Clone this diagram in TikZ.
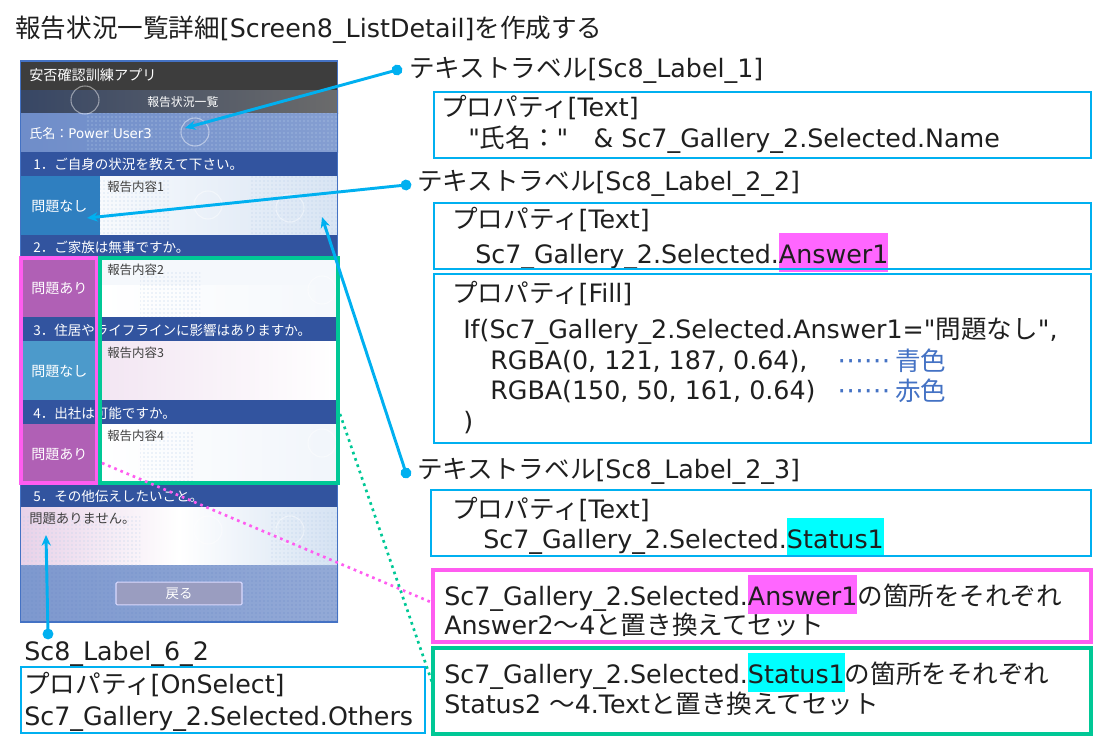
\documentclass[tikz,border=0pt]{standalone}
\usepackage{fontspec}
\setmainfont[Ligatures=TeXOff]{DejaVu Sans}
\newfontfamily\cjk[Scale=1.01]{Noto Sans CJK JP}
\usetikzlibrary{patterns,arrows.meta}
\newcommand{\J}[1]{{\cjk #1}}
\newcommand{\hl}[2]{{\setlength{\fboxsep}{0pt}\colorbox{#1}{\rule[-6.9pt]{0pt}{29.2pt}#2}}}
\newcommand{\dq}{\char34\relax}
\definecolor{cy}{HTML}{00B0F0}
\definecolor{mg}{HTML}{FF5CF0}
\definecolor{gn}{HTML}{00C896}
\definecolor{band}{HTML}{32549F}
\definecolor{hlm}{HTML}{FF66FF}
\definecolor{hlc}{HTML}{00FFFF}
\definecolor{blu}{HTML}{4472C4}
\definecolor{tl}{HTML}{B9CFEA}
\definecolor{tk}{HTML}{6F8DC9}
\definecolor{celb}{HTML}{2F7FC0}
\definecolor{celc}{HTML}{4C9ACB}
\definecolor{celp}{HTML}{B060B5}
\definecolor{btn}{HTML}{9A9DC0}
\tikzset{
  txt/.style={anchor=base west,inner sep=0pt,font=\fontsize{19}{22}\selectfont,text=black!88},
  scr/.style={anchor=base west,inner sep=0pt,text=white,font=\fontsize{10.05}{12}\selectfont},
  sca/.style={scr,font=\fontsize{10.4}{12}\selectfont},
  scrd/.style={anchor=base west,inner sep=0pt,text=black!75,font=\fontsize{9.25}{11}\selectfont},
  cbox/.style={draw=cy,line width=1.5pt},
  conn/.style={draw=cy,line width=2.2pt,shorten <=-4pt,{Circle[length=8pt]}-{Stealth[length=8pt,width=7pt]}},
  dotm/.style={draw=mg,line width=2pt,dash pattern=on 2pt off 3pt},
  dotg/.style={draw=gn,line width=2pt,dash pattern=on 2pt off 3pt},
  ico/.style={draw=white,opacity=0.45,line width=0.8pt},
  patch/.style={pattern=dots,pattern color=#1},
}
\begin{document}
\begin{tikzpicture}[x=0.75pt,y=-0.75pt]
\useasboundingbox (0,0) rectangle (1111,753);
% --- screen ---
\begin{scope}
\clip (20,61) rectangle (338,622);
\fill[color=white] (20,61) rectangle (338,622);
\fill[color=black!76] (20,61) rectangle (338,90);
\fill[left color=black!50!tk,right color=black!58] (20,90) rectangle (338,113);
\fill[left color=tk,right color=tk!85!white] (20,113) rectangle (338,152);
\fill[patch=tl] (85,113) rectangle (338,152);
% rows
\fill[left color=white!90!tl,right color=tl!55!white] (100,176) rectangle (338,235);
\fill[left color=white,right color=white!85!tl] (100,258) rectangle (338,317);
\fill[white!85!tl] (100,258) rectangle (338,285);
\fill[left color=violet!10!white,right color=white] (100,341) rectangle (338,400);
\fill[left color=white,right color=white!80!tl] (100,424) rectangle (338,484);
\fill[left color=violet!18!white,right color=tl!60!white,middle color=white] (20,507) rectangle (338,565);
\fill[left color=tk!90!white,right color=tk!75!white] (20,565) rectangle (338,622);
\fill[patch=tk] (20,565) rectangle (338,622);
\fill[patch=tl] (250,176) rectangle (338,235);
\fill[patch=tl] (100,180) rectangle (170,235);
\fill[patch=tl] (140,270) rectangle (200,317);
\fill[patch=tl] (140,430) rectangle (195,484);
\fill[patch=tl] (20,515) rectangle (140,565);
\fill[patch=tl] (270,510) rectangle (338,565);
% left cells
\fill[celb] (20,176) rectangle (100,235);
\fill[celp] (20,258) rectangle (100,317);
\fill[celc] (20,341) rectangle (100,400);
\fill[celp] (20,424) rectangle (100,484);
\foreach \x/\y in {208/205,290/208,322/290,322/443,208/530,290/530,85/100,195/132}
  \draw[ico] (\x,\y) circle[radius=14];
\foreach \y/\h in {152/176,235/258,317/341,400/424,484/507}
  \fill[band] (20,\y) rectangle (338,\h);
\end{scope}
\draw[blu,line width=1pt] (20.5,61) rectangle (337.5,622);
\node[scr,font=\fontsize{10.5}{13}\selectfont] (t1) at (29,80) {\J{安否確認訓練アプリ}};
\node[scr,font=\fontsize{8.8}{11}\selectfont] (t2) at (147,106) {\J{報告状況一覧}};
\node[scr,font=\fontsize{9.7}{12}\selectfont] (t3) at (29,138) {\J{氏名：}\fontsize{10}{12}\selectfont Power User3};
\node[scr] (q1) at (33,169) {\J{1．ご自身の状況を教えて下さい。}};
\node[scr] (q2) at (33,252) {\J{2．ご家族は無事ですか。}};
\node[scr] (q3) at (33,335) {\J{3．住居やライフラインに影響はありますか。}};
\node[scr] (q4) at (33,418) {\J{4．出社は可能ですか。}};
\node[scr] (q5) at (33,501) {\J{5．その他伝えしたいこと。}};
\node[sca] (a1) at (31,211) {\J{問題なし}};
\node[sca] (a2) at (31,293) {\J{問題あり}};
\node[sca] (a3) at (31,376) {\J{問題なし}};
\node[sca] (a4) at (31,459) {\J{問題あり}};
\node[scrd] (r1) at (107,191) {\J{報告内容1}};
\node[scrd] (r2) at (107,274) {\J{報告内容2}};
\node[scrd] (r3) at (107,357) {\J{報告内容3}};
\node[scrd] (r4) at (107,440) {\J{報告内容4}};
\node[scrd,font=\fontsize{9.9}{12}\selectfont] (r5) at (29,523) {\J{問題ありません。}};
\node[draw=white!85!blue,line width=0.8pt,fill=btn,rounded corners=1pt,minimum width=94.5pt,minimum height=17pt,inner sep=0pt,text=white,font=\fontsize{10}{12}\selectfont] (back) at (179,593.5) {\J{戻る}};
% --- highlight frames ---
\draw[mg,line width=3pt] (21,258) rectangle (97,483);
\draw[gn,line width=3pt] (100,258) rectangle (338,483);
% --- texts ---
\node[txt] (title) at (15,37) {\J{報告状況一覧詳細}[Screen8\_ListDetail]\J{を作成する}};
\node[txt] (l1) at (409,77) {\J{テキストラベル}[Sc8\_Label\_1]};
\node[txt] (p1) at (441,116) {\J{プロパティ}[Text]};
\node[txt] (p1b) at (468,147) {\dq\J{氏名：}\dq\hspace{19pt}\& Sc7\_Gallery\_2.Selected.Name};
\node[txt] (l2) at (417,190) {\J{テキストラベル}[Sc8\_Label\_2\_2]};
\node[txt] (p2) at (452,228) {\J{プロパティ}[Text]};
\node[txt] (p2b) at (475,263) {Sc7\_Gallery\_2.Selected.\hl{hlm}{Answer1}};
\node[txt] (p3) at (452,302) {\J{プロパティ}[Fill]};
\node[txt] (p3b) at (463,338) {If(Sc7\_Gallery\_2.Selected.Answer1=\dq\J{問題なし}\dq,};
\node[txt] (p3c) at (490,369) {RGBA(0, 121, 187, 0.64),};
\node[txt,text=blu,font=\fontsize{20}{22}\selectfont] (dots1) at (837,369) {\char"22EF\char"22EF};
\node[txt,text=blu] (ao) at (895,370) {\J{青色}};
\node[txt] (p3d) at (490,399) {RGBA(150, 50, 161, 0.64)};
\node[txt,text=blu,font=\fontsize{20}{22}\selectfont] (dots2) at (837,399) {\char"22EF\char"22EF};
\node[txt,text=blu] (aka) at (895,400) {\J{赤色}};
\node[txt] (p3e) at (463,430) {)};
\node[txt] (l3) at (417,478) {\J{テキストラベル}[Sc8\_Label\_2\_3]};
\node[txt] (p4) at (452,518) {\J{プロパティ}[Text]};
\node[txt] (p4b) at (483,548) {Sc7\_Gallery\_2.Selected.\hl{hlc}{Status1}};
\node[txt] (e1) at (444,605) {Sc7\_Gallery\_2.Selected.\hl{hlm}{Answer1}\J{の箇所をそれぞれ}};
\node[txt] (e2) at (444,634) {Answer2\J{～}4\J{と置き換えてセット}};
\node[txt] (f1) at (444,683) {Sc7\_Gallery\_2.Selected.\hl{hlc}{Status1}\J{の箇所をそれぞれ}};
\node[txt] (f2) at (444,713) {Status2 \J{～}4.Text\J{と置き換えてセット}};
\node[txt] (l6) at (24,660) {Sc8\_Label\_6\_2};
\node[txt] (g1) at (24,693) {\J{プロパティ}[OnSelect]};
\node[txt] (g2) at (24,725) {Sc7\_Gallery\_2.Selected.Others};
% --- right side boxes ---
\node[cbox,minimum width=492.5pt,minimum height=49.5pt,inner sep=0pt] (bA) at (762.5,124.5) {};
\node[cbox,minimum width=492.5pt,minimum height=49.5pt,inner sep=0pt] (bB) at (762.5,236) {};
\node[cbox,minimum width=492.5pt,minimum height=126.5pt,inner sep=0pt] (bC) at (762.5,358.5) {};
\node[cbox,minimum width=495pt,minimum height=49.5pt,inner sep=0pt] (bD) at (761,523) {};
\node[draw=mg,line width=3pt,minimum width=493pt,minimum height=54pt,inner sep=0pt] (bE) at (762,606) {};
\node[draw=gn,line width=3pt,minimum width=493pt,minimum height=64.5pt,inner sep=0pt] (bF) at (762,691) {};
\node[cbox,minimum width=303pt,minimum height=49.5pt,inner sep=0pt] (bG) at (223,700) {};
% --- connectors ---
\coordinate (c1s) at (397,70); \coordinate (c1e) at (185,128);
\coordinate (c2s) at (406,185); \coordinate (c2e) at (87,218);
\coordinate (c3s) at (406,473); \coordinate (c3e) at (322,217);
\coordinate (c4s) at (48,634); \coordinate (c4e) at (46,535);
\coordinate (d1s) at (102,463); \coordinate (d1e) at (433,603);
\coordinate (d2s) at (340,414); \coordinate (d2e) at (433,685);
\draw[conn] (c1s) -- (c1e);
\draw[conn] (c2s) -- (c2e);
\draw[conn] (c3s) -- (c3e);
\draw[conn] (c4s) -- (c4e);
\draw[dotm] (d1s) -- (d1e);
\draw[dotg] (d2s) -- (d2e);
\end{tikzpicture}
\end{document}
